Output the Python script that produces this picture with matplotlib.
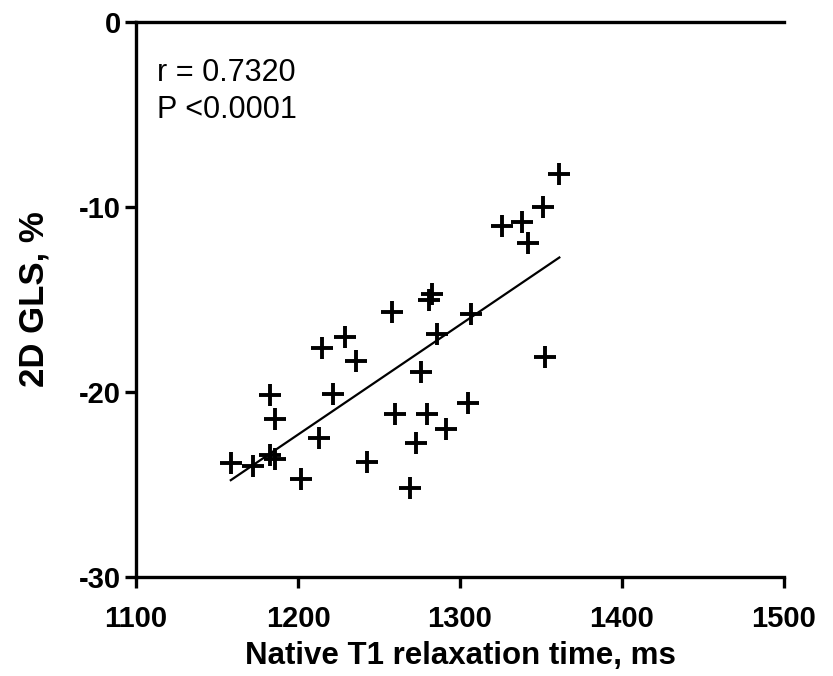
import numpy as np
import matplotlib
matplotlib.use("Agg")
import matplotlib.pyplot as plt

plt.rcParams['font.family'] = ['Liberation Sans', 'DejaVu Sans']

# Data
t1_ms = [1158.5, 1172.4, 1182.7, 1185.8, 1182.7, 1185.8, 1201.7, 1213.0, 1215.0,
         1221.8, 1228.8, 1235.8, 1242.8, 1257.8, 1260.0, 1281.0, 1283.0, 1286.0,
         1306.8, 1275.7, 1279.8, 1305.1, 1291.2, 1272.8, 1269.1, 1352.5, 1361.3,
         1351.4, 1326.1, 1338.1, 1342.2]
gls_pct = [-23.82, -23.98, -20.16, -21.48, -23.40, -23.60, -24.70, -22.50, -17.61,
           -20.11, -17.01, -18.32, -23.80, -15.69, -21.19, -15.05, -14.70, -16.86,
           -15.80, -18.94, -21.19, -20.61, -22.00, -22.77, -25.21, -18.09, -8.22,
           -10.02, -11.03, -10.79, -11.93]
x_ticks = [1100, 1200, 1300, 1400, 1500]
y_ticks = [0, -10, -20, -30]
annot = "r = 0.7320\nP <0.0001"

x = np.array(t1_ms)
y = np.array(gls_pct)

fig = plt.figure(figsize=(8.33, 6.76), dpi=100)
ax = fig.add_axes([0.1633, 0.1464, 0.9412 - 0.1633, 0.9675 - 0.1464])

ax.plot(x, y, linestyle='none', marker='+', markersize=16, markeredgewidth=2.8,
        color='black', zorder=3)

slope, intercept = np.polyfit(x, y, 1)
xl = np.array([x.min(), x.max()])
ax.plot(xl, slope * xl + intercept, color='black', linewidth=1.6, zorder=2)

ax.set_xlim(1100, 1500)
ax.set_ylim(-30, 0)
ax.set_xticks(x_ticks)
ax.set_yticks(y_ticks)
ax.set_xticklabels([str(v) for v in x_ticks], fontsize=21, fontweight='bold')
ax.set_yticklabels([str(v) for v in y_ticks], fontsize=21, fontweight='bold')

for s in ['left', 'bottom', 'top']:
    ax.spines[s].set_linewidth(2.4)
ax.spines['right'].set_visible(False)
ax.tick_params(axis='both', direction='out', length=8, width=2.4)
ax.tick_params(axis='x', pad=12)
ax.tick_params(axis='y', pad=3)

ax.set_xlabel("Native T1 relaxation time, ms", fontsize=22.5, fontweight='bold', labelpad=6)
ax.set_ylabel("2D GLS, %", fontsize=25, fontweight='bold', labelpad=20)

ax.text(0.033, 0.935, annot, transform=ax.transAxes, fontsize=22, va='top',
        ha='left', linespacing=1.3)

fig.savefig("out.png", dpi=100)
